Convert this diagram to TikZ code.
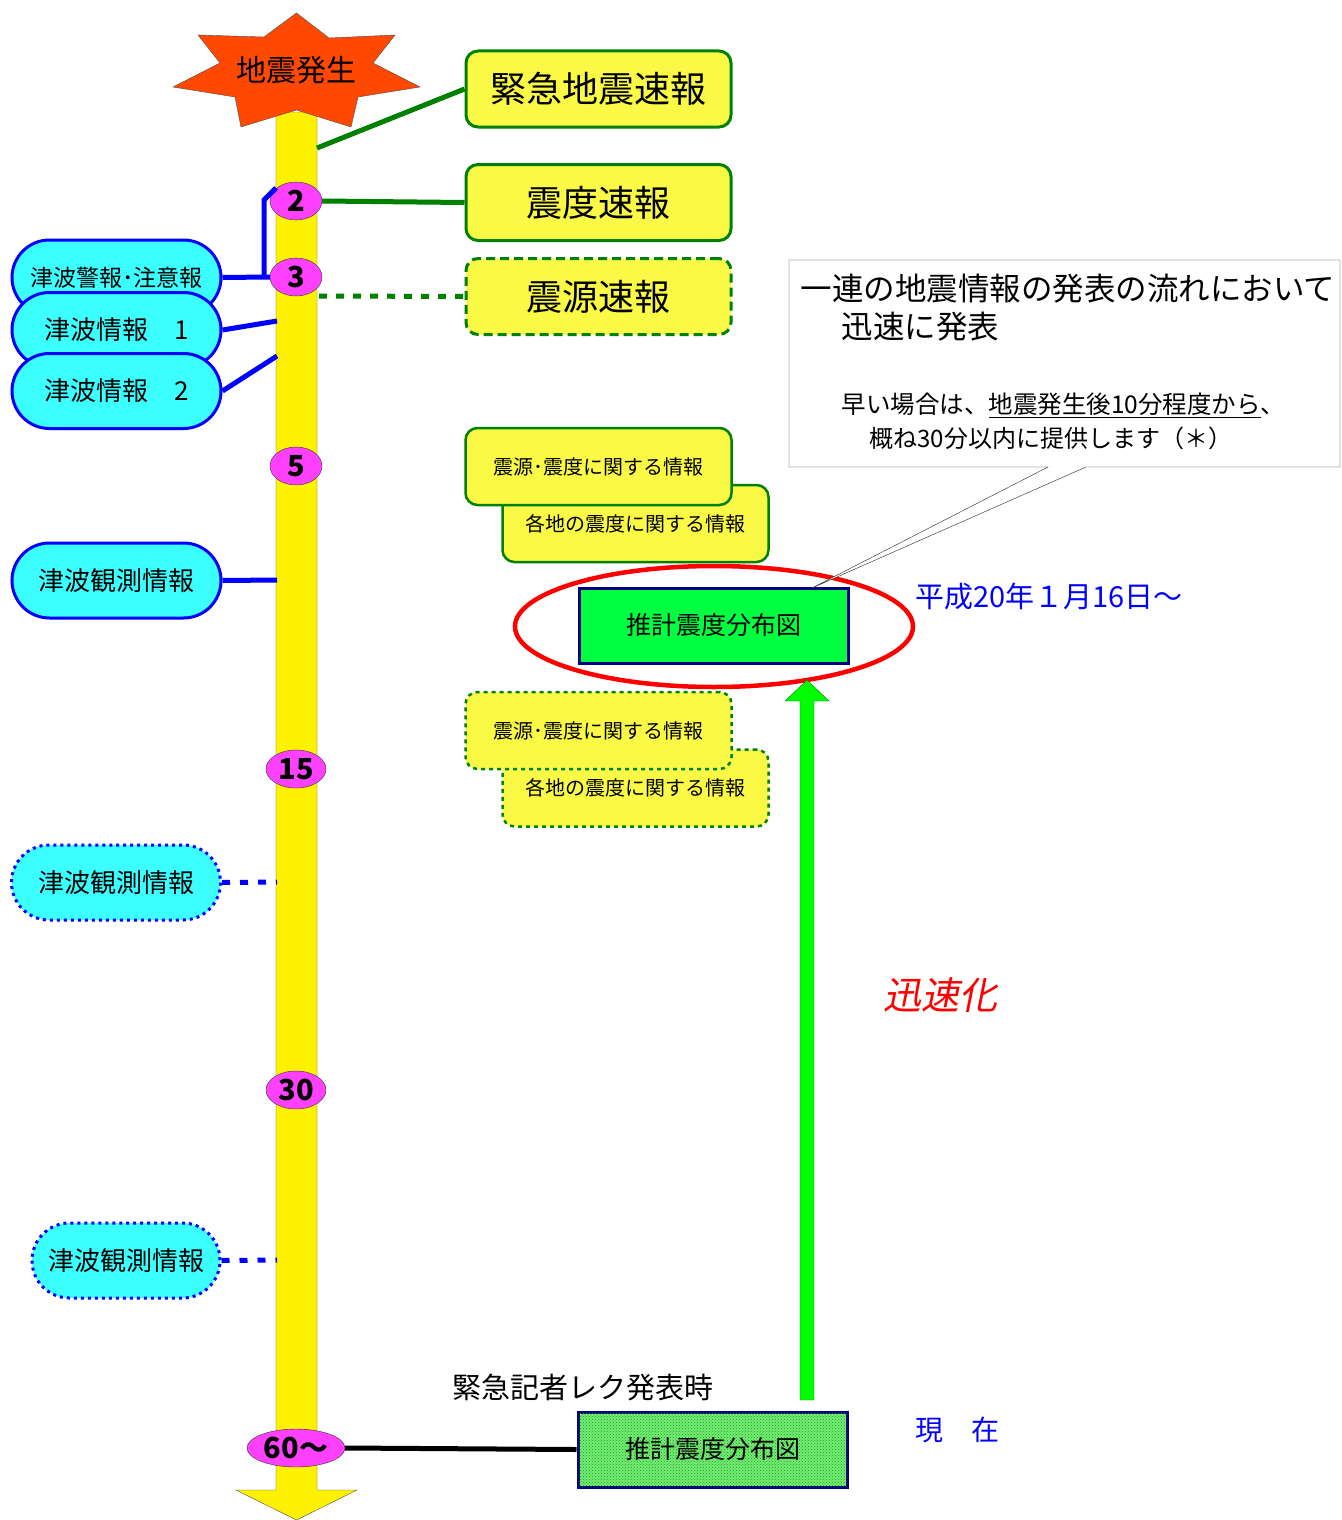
\documentclass[tikz,border=0pt]{standalone}
\usepackage{fontspec}
\setmainfont{Noto Sans CJK JP}
\newfontfamily\slantjp{Noto Sans CJK JP}[FakeSlant=0.2]
\usetikzlibrary{shapes.geometric, shapes.misc, patterns, positioning}
\definecolor{boxyellow}{RGB}{250,250,70}
\definecolor{linegreen}{RGB}{0,128,0}
\definecolor{tsucyan}{RGB}{60,255,255}
\definecolor{minmag}{RGB}{255,64,255}
\definecolor{mapgreen}{RGB}{0,255,64}
\definecolor{mapnavy}{RGB}{0,0,128}
\definecolor{boomred}{RGB}{255,72,0}
\newcommand{\fs}[1]{\fontsize{#1}{#1}\selectfont}
\tikzstyle{quake} = [rectangle, rounded corners=12pt, draw=linegreen, line width=3pt, fill=boxyellow, minimum width=265pt, minimum height=76pt, inner sep=0pt, font=\fs{36}]
\tikzstyle{quakedash} = [quake, dash pattern=on 9pt off 5pt]
\tikzstyle{info} = [rectangle, rounded corners=12pt, draw=linegreen, line width=2.5pt, fill=boxyellow, minimum width=266pt, minimum height=77pt, inner sep=0pt, font=\fs{20}]
\tikzstyle{infodot} = [info, dash pattern=on 4pt off 4pt]
\tikzstyle{tsunami} = [rounded rectangle, draw=blue, line width=3pt, fill=tsucyan, minimum width=209pt, minimum height=75pt, inner sep=0pt, font=\fs{26}]
\tikzstyle{tsunamidot} = [tsunami, dash pattern=on 3pt off 4pt]
\tikzstyle{minute} = [ellipse, draw=black!80, thin, fill=minmag, minimum width=52pt, minimum height=38pt, inner sep=0pt, font=\bfseries\fs{29}]
\tikzstyle{glink} = [line width=5pt, draw=linegreen]
\tikzstyle{blink} = [line width=5pt, draw=blue]
\tikzstyle{mapbox} = [rectangle, draw=mapnavy, line width=3pt, minimum width=269pt, minimum height=75pt, inner sep=0pt, font=\fs{25}]

\begin{document}
\begin{tikzpicture}[x=1pt, y=-1pt]
\useasboundingbox (0,0) rectangle (1341,1520);

\draw [fill=yellow, draw=black!70, thin] (276,112) -- (317,112) -- (317,1490) -- (357,1490) -- (296.5,1520) -- (236,1490) -- (276,1490) -- cycle;
\draw [fill=boomred, draw=black!70, thin] (296.5,13) -- (329,38) -- (395,35) -- (373,63) -- (420,87) -- (358,97) -- (351,127) -- (296.5,110) -- (241,127) -- (235,97) -- (173,87) -- (220,63) -- (198,35) -- (264,37) -- cycle;
\node [font=\fs{30}] (quake) at (296,70) {地震発生};

\node [quake] (eew) at (598.5,89) {緊急地震速報};
\node [quake] (shindo) at (598.5,202.5) {震度速報};
\node [quakedash] (shingen) at (598.5,296.5) {震源速報};

\node [minute] (m2) at (296,201) {2};
\node [minute] (m3) at (296,277) {3};
\node [minute] (m5) at (296,466) {5};
\node [minute, minimum width=60pt] (m15) at (296,769) {15};
\node [minute, minimum width=60pt] (m30) at (296,1090) {30};
\node [minute, minimum width=98pt] (m60) at (296,1448) {60～};

\coordinate (b1) at (317,148);
\coordinate (b3) at (319,296);
\coordinate (k1) at (264,200);
\coordinate (k2) at (276,188);
\coordinate (k3) at (277,321);
\coordinate (k4) at (277,356);
\coordinate (k5) at (277,580);
\coordinate (k6) at (277,882);
\coordinate (k7) at (277,1260);

\node [tsunami, font=\fs{23}] (t0) at (116.5,277.5) {津波警報･注意報};
\node [tsunami] (t1) at (116.5,330) {津波情報　1};
\node [tsunami] (t2) at (116.5,391) {津波情報　2};
\node [tsunami] (t3) at (116.5,580.5) {津波観測情報};
\node [tsunamidot] (t4) at (116,882.5) {津波観測情報};
\node [tsunamidot, minimum width=188pt] (t5) at (126,1260.5) {津波観測情報};

\draw [glink] (b1) to (eew.west);
\draw [glink] (m2.east) to (shindo.west);
\draw [glink, dash pattern=on 8pt off 9pt] (b3) to (shingen.west);

\draw [blink] (t0.east) to (m3.west);
\draw [blink] (t0.east -| k1) -- (k1) -- (k2);
\draw [blink] (t1.east) to (k3);
\draw [blink] (t2.east) to (k4);
\draw [blink] (t3.east) to (k5);
\draw [blink, dash pattern=on 8pt off 10pt] (t4.east) to (k6);
\draw [blink, dash pattern=on 8pt off 10pt] (t5.east) to (k7);

\node [info] (kakuchi) at (635.5,523.5) {各地の震度に関する情報};
\node [info] (gen) at (598.5,466.5) {震源･震度に関する情報};
\node [infodot] (kakuchi2) at (635.5,788) {各地の震度に関する情報};
\node [infodot] (gen2) at (598.5,730.5) {震源･震度に関する情報};

\node [ellipse, draw=red, line width=4.5pt, minimum width=398pt, minimum height=121pt] (ring) at (714,626.5) {};
\node [mapbox, fill=mapgreen] (map) at (713.5,625.5) {推計震度分布図};

\coordinate (tip) at (812,588);
\draw [fill=white, draw=black!85, thin] (789,260) -- (1340,260) -- (1340,467) -- (1086,467) -- (tip) -- (1048,467) -- (789,467) -- cycle;
\node [anchor=west, font=\fs{31.5}] (c1) at (797,289) {一連の地震情報の発表の流れにおいて};
\node [anchor=west, font=\fs{31.5}] (c2) at (838,327) {迅速に発表};
\node [anchor=west, font=\fs{24.5}] (c3) at (838,405) {早い場合は、\underline{地震発生後10分程度から}、};
\node [anchor=west, font=\fs{24}] (c4) at (866,438) {概ね30分以内に提供します（＊）};

\node [anchor=west, text=blue, font=\fs{29}] (date) at (912,597) {平成20年１月16日～};

\draw [fill=green, draw=green!50!black, thin] (800,1400) -- (800,701) -- (785,701) -- (807,680) -- (829,701) -- (814,701) -- (814,1400) -- cycle;
\node [text=red, font=\slantjp\fs{38}] (fast) at (940,995) {迅速化};

\node [font=\fs{29}] (rek) at (583,1387) {緊急記者レク発表時};
\node [mapbox, fill={rgb,255:red,120;green,232;blue,120}, postaction={pattern=crosshatch dots, pattern color=green!70!black}] (map0) at (712.5,1449.5) {推計震度分布図};
\draw [line width=5pt] (m60.east) to (map0.west);
\node [text=blue, font=\fs{28}] (now) at (957,1430) {現　在};
\end{tikzpicture}
\end{document}
